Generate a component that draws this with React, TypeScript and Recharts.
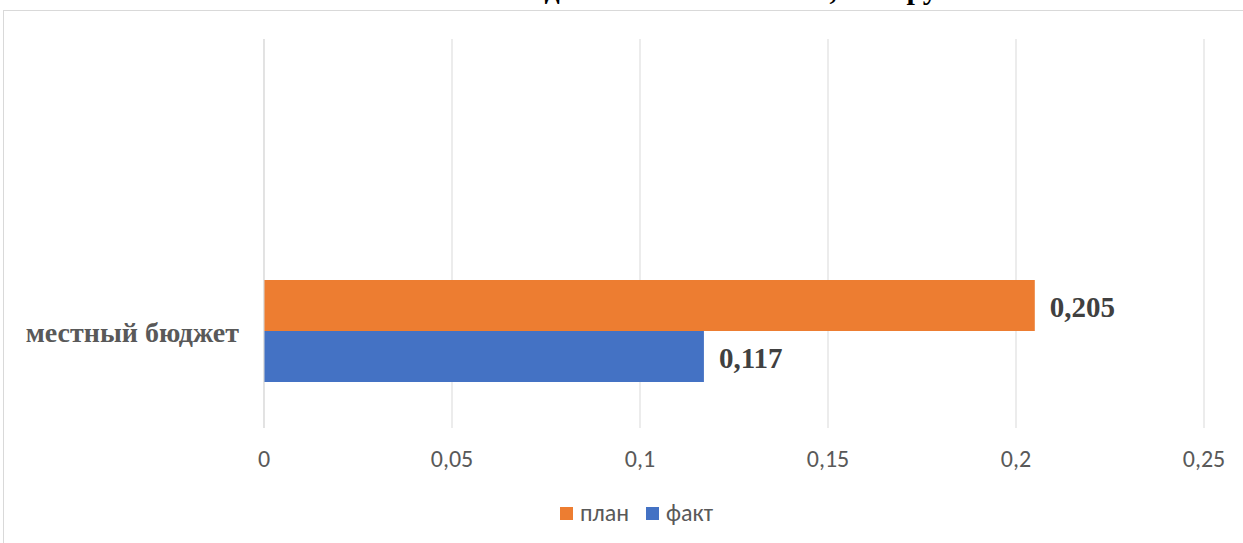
import React from "react";
import { BarChart, Bar, XAxis, YAxis, CartesianGrid, LabelList } from "recharts";

const categories = ["местный бюджет"];
const planValues = [0.205];
const factValues = [0.117];
const xTicks = [0, 0.05, 0.1, 0.15, 0.2, 0.25];
const seriesNames = ["план", "факт"];
const seriesColors = ["#ED7D31", "#4472C4"];
const titleText = "Объем местного бюджета на исполнение, млн руб.";

const data = categories.map((c, i) => ({ name: c, plan: planValues[i], fact: factValues[i] }));

const fmt = (v: any) => String(v).replace(".", ",");
const sansFont = "Carlito, 'Liberation Sans', Arial, sans-serif";
const serifFont = "'Liberation Serif', 'Times New Roman', serif";

const XTick = (props: any) => {
  const { x, y, payload } = props;
  return (
    <text x={x} y={y + 31} textAnchor="middle" fill="#595959" fontSize={24} fontFamily={sansFont}>
      {fmt(payload.value)}
    </text>
  );
};

const YTick = (props: any) => {
  const { x, y, payload } = props;
  return (
    <text x={x} y={y} dy={11.5} textAnchor="end" fill="#595959" fontSize={28} fontWeight="bold" fontFamily={serifFont}>
      {payload.value}
    </text>
  );
};

const ValueLabel = (props: any) => {
  const { x, y, width, height, value } = props;
  return (
    <text x={x + width + 15} y={y + height / 2 + 11} textAnchor="start" fill="#404040" fontSize={29} fontWeight="bold" fontFamily={serifFont}>
      {fmt(value)}
    </text>
  );
};

export default function App() {
  return (
    <div style={{ position: "absolute", left: 0, top: 0, width: 1243, height: 543, overflow: "hidden", background: "#fff" }}>
      <div style={{ position: "absolute", left: 3, top: 10, width: 1400, height: 700, border: "1px solid #d9d9d9" }} />
      <svg width={1243} height={20} style={{ position: "absolute", left: 0, top: 0 }}>
        <text x={621} y={-1.5} textAnchor="middle" fontSize={30} fontWeight="bold" fill="#000" fontFamily={serifFont}>
          {titleText}
        </text>
      </svg>
      <div style={{ position: "absolute", left: 0, top: 0 }}>
        <BarChart
          width={1243}
          height={543}
          data={data}
          layout="vertical"
          margin={{ top: 39, right: 39, bottom: 0, left: 0 }}
          barGap={0}
        >
          <CartesianGrid horizontal={false} stroke="#d9d9d9" strokeWidth={1} />
          <XAxis
            type="number"
            domain={[0, 0.25]}
            ticks={xTicks}
            axisLine={false}
            tickLine={false}
            height={115}
            tick={<XTick />}
            interval={0}
          />
          <YAxis
            type="category"
            dataKey="name"
            width={264}
            axisLine={{ stroke: "#d9d9d9" }}
            tickLine={false}
            tickSize={0}
            tickMargin={25}
            padding={{ top: 194, bottom: 0 }}
            tick={<YTick />}
          />
          <Bar dataKey="plan" name={seriesNames[0]} fill={seriesColors[0]} barSize={51} isAnimationActive={false}>
            <LabelList dataKey="plan" content={<ValueLabel />} />
          </Bar>
          <Bar dataKey="fact" name={seriesNames[1]} fill={seriesColors[1]} barSize={51} isAnimationActive={false}>
            <LabelList dataKey="fact" content={<ValueLabel />} />
          </Bar>
        </BarChart>
      </div>
      <div style={{ position: "absolute", left: 560, top: 502, height: 22, display: "flex", alignItems: "center", fontFamily: sansFont, fontSize: 24, lineHeight: "22px", color: "#595959" }}>
        {seriesNames.map((n, i) => (
          <div key={n} style={{ display: "flex", alignItems: "center", marginRight: i === 0 ? 17 : 0 }}>
            <span style={{ display: "inline-block", width: 13, height: 13, background: seriesColors[i], marginRight: 7 }} />
            <span>{n}</span>
          </div>
        ))}
      </div>
    </div>
  );
}
